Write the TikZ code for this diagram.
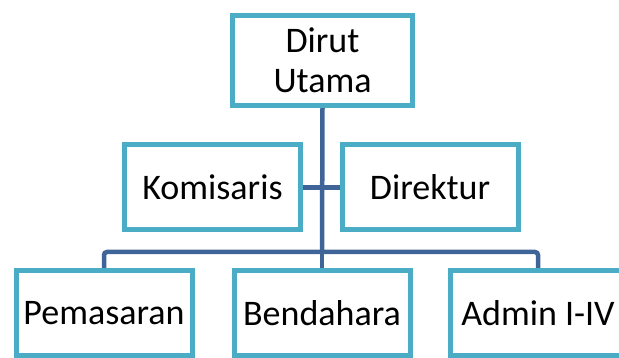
\documentclass[tikz,border=0pt]{standalone}
\usepackage{fontspec}
\setmainfont{Carlito}
\usepackage{tikz}
\usetikzlibrary{positioning}
\usetikzlibrary{backgrounds}
\definecolor{kotak}{HTML}{4BACC6}
\definecolor{garis}{HTML}{3F6598}
\tikzset{
  jabatan/.style={draw=kotak, line width=5pt, fill=white, minimum width=176pt,
    minimum height=85pt, inner sep=0pt, align=center,
    font=\fontsize{36}{40}\selectfont},
  hubung/.style={draw=garis, line width=4.5pt, rounded corners=3pt}
}

\begin{document}
\begin{tikzpicture}[x=1pt,y=-1pt]
            \clip (0,0) rectangle (619,358);

            \node[jabatan, minimum width=180pt, minimum height=90pt] (dirut) at (322.5,60.5) {Dirut\\Utama};
            \node[jabatan] (komisaris) at (212.5,187.5) {Komisaris};
            \node[jabatan] (direktur) at (430,187.5) {Direktur};
            \node[jabatan] (pemasaran) at (104,313) {Pemasaran};
            \node[jabatan] (bendahara) at (322,313) {Bendahara};
            \node[jabatan] (admin) at (538,313) {Admin I-IV};

            \coordinate (simpul) at (322,252);

            % garis di belakang kotak
            \begin{scope}[on background layer]
            \draw[hubung] (dirut.south) -- (simpul);
            \draw[hubung] (komisaris.east) -- (direktur.west);
            \draw[hubung] (pemasaran.north) |- (simpul) -| (admin.north);
            \draw[hubung] (simpul) -- (bendahara.north);
            \end{scope}
\end{tikzpicture}
\end{document}
